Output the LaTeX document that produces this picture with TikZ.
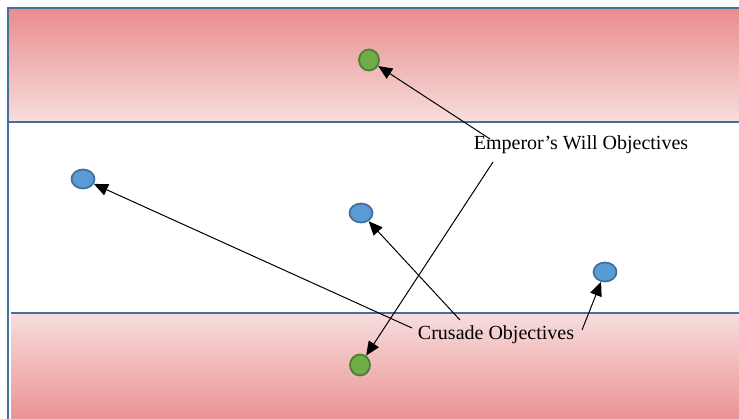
\documentclass[tikz,border=0pt]{standalone}
\usepackage{fontspec}
\setmainfont{Liberation Serif}
\usetikzlibrary{shapes.geometric,arrows.meta}

\definecolor{bandDark}{RGB}{233,140,140}
\definecolor{bandLight}{RGB}{247,221,221}
\definecolor{frameBlue}{RGB}{65,113,156}
\definecolor{objBlue}{RGB}{91,155,213}
\definecolor{objGreen}{RGB}{112,173,71}
\definecolor{objGreenEdge}{RGB}{80,126,50}

\tikzset{
  frame/.style={draw=frameBlue, line width=2.6pt},
  blueobj/.style={ellipse, draw=frameBlue, fill=objBlue, line width=1.8pt,
    minimum width=23pt, minimum height=19pt, inner sep=0pt},
  greenobj/.style={ellipse, draw=objGreenEdge, fill=objGreen, line width=1.8pt,
    minimum width=20pt, minimum height=21pt, inner sep=0pt},
  caption/.style={font=\fontsize{20}{22}\selectfont, inner sep=1pt},
  pointer/.style={draw=black, line width=1pt,
    -{Triangle[length=14pt,width=12pt]}},
}

\begin{document}
\begin{tikzpicture}[x=1pt,y=-1pt]
  \useasboundingbox (0,0) rectangle (739,418);

  % table bands
  \begin{scope}
    \clip (0,0) rectangle (739,418);
    \fill[top color=bandDark, bottom color=bandLight] (8,8) rectangle (760,122);
    \draw[frame] (8,8) rectangle (760,122);
    \fill[white] (8,122) rectangle (760,430);
    \draw[frame] (8,122) rectangle (760,430);
    \fill[top color=bandLight, bottom color=bandDark] (11,313) rectangle (760,430);
    \draw[frame] (11,313) -- (760,313);
  \end{scope}

  % objective markers
  \node[greenobj] (gtop) at (369,60) {};
  \node[greenobj] (gbot) at (360,365) {};
  \node[blueobj] (bleft) at (83,179) {};
  \node[blueobj] (bmid) at (361,213) {};
  \node[blueobj] (bright) at (605,272) {};

  % labels
  \node[caption] (emp) at (581,145) {Emperor’s Will Objectives};
  \node[caption] (cru) at (496,335) {Crusade Objectives};

  % pointer start points
  \coordinate (e1) at (490,139);
  \coordinate (e2) at (493,162);
  \coordinate (c1) at (412,328);
  \coordinate (c2) at (460,320);
  \coordinate (c3) at (582,330);

  \draw[pointer] (e1) -- (gtop);
  \draw[pointer] (e2) -- (gbot);
  \draw[pointer] (c1) -- (bleft);
  \draw[pointer] (c2) -- (bmid);
  \draw[pointer] (c3) -- (bright);
\end{tikzpicture}
\end{document}
